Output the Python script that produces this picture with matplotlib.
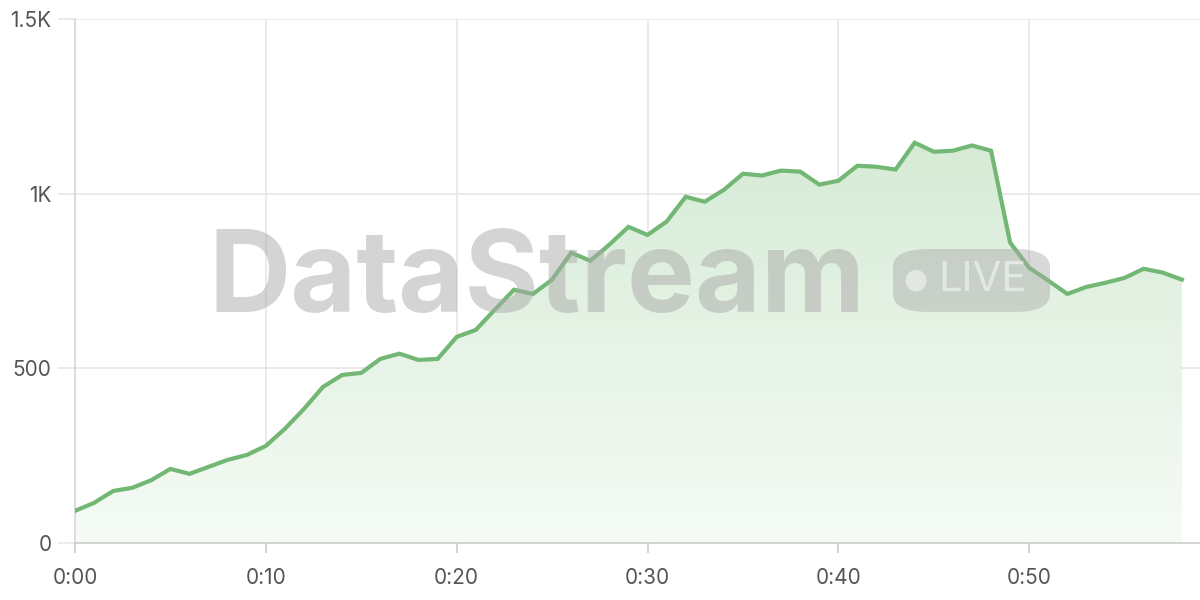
import numpy as np
import matplotlib
matplotlib.use("Agg")
import matplotlib.pyplot as plt
from matplotlib.colors import LinearSegmentedColormap
from matplotlib.patches import FancyBboxPatch

plt.rcParams['font.family'] = ['Inter', 'DejaVu Sans']

# viewers per minute
minutes = list(range(59))
viewers = [92, 115, 149, 158, 180, 212, 198, 218, 238, 252,
           278, 327, 384, 447, 481, 487, 527, 542, 524, 527,
           590, 610, 668, 725, 713, 754, 831, 808, 854, 905,
           882, 920, 991, 977, 1011, 1057, 1052, 1066, 1063, 1026,
           1037, 1080, 1077, 1069, 1146, 1120, 1123, 1138, 1123, 860,
           788, 751, 713, 733, 745, 759, 785, 774, 754]
xticks = [0, 10, 20, 30, 40, 50]
xtick_labels = ["0:00", "0:10", "0:20", "0:30", "0:40", "0:50"]
yticks = [0, 500, 1000, 1500]
ytick_labels = ["0", "500", "1K", "1.5K"]

line_col = '#72b874'
grid_col = '#e6e6e6'

fig = plt.figure(figsize=(12, 6), dpi=100)
ax = fig.add_axes([75/1200, 57/600, 1125/1200, 524/600])
ax.set_xlim(0, 58.95)
ax.set_ylim(0, 1500)

# gradient fill under the line
poly = ax.fill_between(minutes, viewers, 0, color='none', lw=0)
cmap = LinearSegmentedColormap.from_list('g', ['#f6fbf6', '#d6ebd6'])
grad = np.linspace(0, 1, 256).reshape(-1, 1)
im = ax.imshow(grad, cmap=cmap, aspect='auto', origin='lower',
               extent=[0, 58, 0, max(viewers)], zorder=1)
im.set_clip_path(poly.get_paths()[0], transform=ax.transData)

ax.plot(minutes, viewers, color=line_col, lw=3, zorder=4, solid_joinstyle='miter')

ax.set_xticks(xticks)
ax.set_xticklabels(xtick_labels)
ax.set_yticks(yticks)
ax.set_yticklabels(ytick_labels)
ax.grid(True, color=grid_col, lw=1.2, zorder=0)
ax.set_axisbelow(True)
for s in ['top', 'right']:
    ax.spines[s].set_visible(False)
ax.spines['left'].set_color('#d6d6d6')
ax.spines['bottom'].set_color('#cccccc')
ax.spines['left'].set_linewidth(1.2)
ax.spines['bottom'].set_linewidth(1.2)
ax.tick_params(axis='y', length=12, color=grid_col, width=1.2, pad=5,
               labelsize=15, labelcolor='#555555')
ax.tick_params(axis='x', length=7, color='#cccccc', width=1.2, pad=11,
               labelsize=15, labelcolor='#555555')

# watermark
fig.text(208/1200, 1 - 312/600, "DataStream", fontsize=82, fontweight='bold',
         color='#aaaaaa', alpha=0.5, ha='left', va='baseline', zorder=3,
         family=['Inter', 'DejaVu Sans'])
pill = FancyBboxPatch((893/1200, 1 - 312/600), 157/1200, 63/600,
                      boxstyle='round,pad=0,rounding_size=0.03',
                      transform=fig.transFigure, facecolor='#aaaaaa',
                      alpha=0.45, edgecolor='none', zorder=3)
fig.patches.append(pill)
fig.text(916/1200, 1 - 280/600, "\u25cf", fontsize=20, color='white', alpha=0.5,
         ha='center', va='center', zorder=3, family=['DejaVu Sans'])
fig.text(938/1200, 1 - 280/600, "LIVE", fontsize=30, color='white', alpha=0.5,
         ha='left', va='center', zorder=3)

fig.savefig('out.png', dpi=100)
